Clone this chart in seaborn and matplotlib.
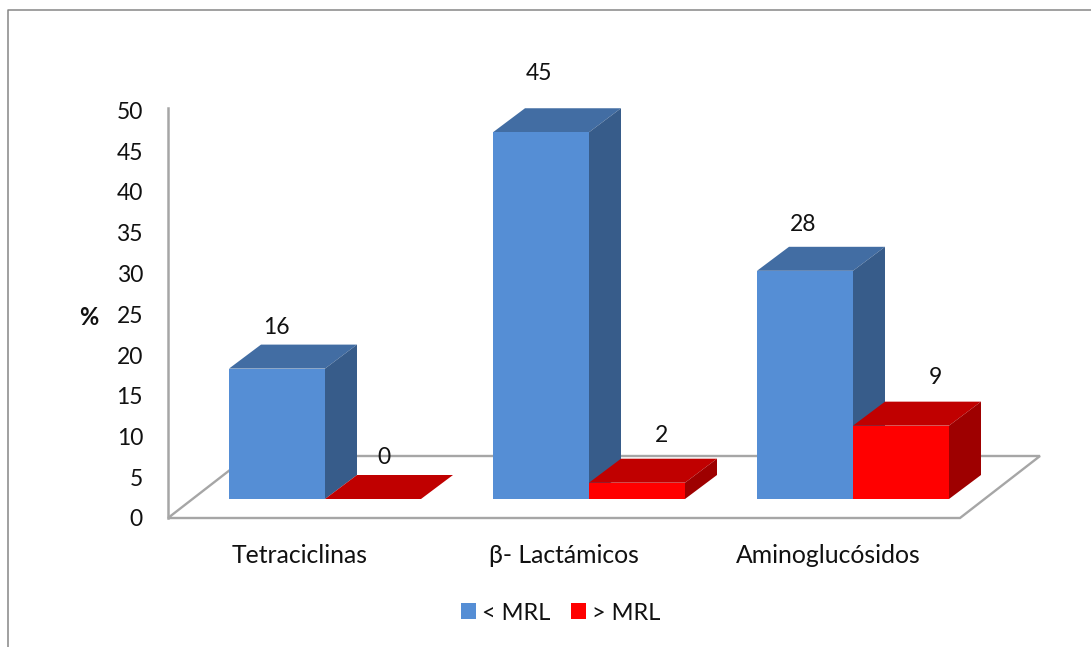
import matplotlib
matplotlib.use("Agg")
import matplotlib.pyplot as plt
from matplotlib.lines import Line2D
from matplotlib.patches import Polygon
import pandas as pd
import seaborn as sns

# Values
categories = ["Tetraciclinas", "β- Lactámicos", "Aminoglucósidos"]
below_mrl = [16, 45, 28]
above_mrl = [0, 2, 9]
series_names = ["< MRL", "> MRL"]
y_ticks = [0, 5, 10, 15, 20, 25, 30, 35, 40, 45, 50]

# Label nudges in pixels, one per bar, from each bar's top centre
below_nudges = [(-1, 41), (-2, 59), (-2, 46)]
above_nudges = [(11, 41), (25, 47), (34, 48)]

FRONT = {"< MRL": "#558ED5", "> MRL": "#FF0000"}
TOP = {"< MRL": "#426DA3", "> MRL": "#C00000"}
SIDE = {"< MRL": "#375C8A", "> MRL": "#9E0000"}
GRID_GREY = "#A6A6A6"
FRAME_GREY = "#868686"

W, H = 1091, 647
UNIT_PX = 8.15      # pixels per percentage point
CAT_PX = 264        # pixels per category
BAR_DEPTH = (32 / CAT_PX, 24 / UNIT_PX)
FLOOR_DEPTH = (80 / CAT_PX, 62 / UNIT_PX)

sns.set_theme(style="white")
plt.rcParams["font.family"] = ["Lato", "DejaVu Sans"]
plt.rcParams["text.color"] = "#111111"

fig = plt.figure(figsize=(W / 100, H / 100), dpi=100, facecolor="white")


def axes_from_pixels(left, right, bottom, top, **kw):
    return fig.add_axes([left / W, 1 - bottom / H, (right - left) / W, (bottom - top) / H], **kw)


# Value axis and floor of the 3D box
box = axes_from_pixels(168, 960, 518, 518 - 50 * UNIT_PX)
box.set_xlim(-0.5, 2.5)
box.set_ylim(0, 50)
box.set_yticks(y_ticks)
box.set_xticks(range(len(categories)), categories)
box.tick_params(axis="y", length=0, labelsize=16.5, pad=18, labelcolor="#111111")
box.tick_params(axis="x", length=0, labelsize=17.8, pad=19, labelcolor="#111111")
for name in ["top", "right", "bottom"]:
    box.spines[name].set_visible(False)
box.spines["left"].set_color(GRID_GREY)
box.spines["left"].set_linewidth(1.8)
box.spines["left"].set_bounds(0, 50.3)
box.add_patch(Polygon(
    [(-0.5, 0), (2.5, 0), (2.5 + FLOOR_DEPTH[0], FLOOR_DEPTH[1]), (-0.5 + FLOOR_DEPTH[0], FLOOR_DEPTH[1])],
    closed=True, facecolor="white", edgecolor=GRID_GREY, linewidth=1.7, clip_on=False,
))
box.text(-0.5 - 79 / CAT_PX, 24.6, "%", fontsize=17, fontweight="bold", ha="center", va="center")

# Bars stand a little in front of the value axis origin
df = pd.DataFrame({
    "categoria": categories * 2,
    "serie": [series_names[0]] * 3 + [series_names[1]] * 3,
    "valor": below_mrl + above_mrl,
})
bars = axes_from_pixels(193, 985, 499, 499 - 50 * UNIT_PX)
bars.patch.set_visible(False)
sns.barplot(data=df, x="categoria", y="valor", hue="serie", order=categories,
            hue_order=series_names, palette=FRONT, saturation=1, width=192 / CAT_PX,
            gap=0, errorbar=None, linewidth=0, ax=bars)
bars.set_xlim(-0.5, 2.5)
bars.set_ylim(0, 50)
handles, labels = bars.get_legend_handles_labels()
bars.legend_.remove()
bars.axis("off")

# Extrude each front face into top and side faces
dx, dy = BAR_DEPTH
for order, (container, name, nudges) in enumerate(
        zip(bars.containers, series_names, [below_nudges, above_nudges])):
    for rect, nudge in zip(container, nudges):
        x0, w, h = rect.get_x(), rect.get_width(), rect.get_height()
        x1 = x0 + w
        bars.add_patch(Polygon([(x0, h), (x1, h), (x1 + dx, h + dy), (x0 + dx, h + dy)],
                               closed=True, facecolor=TOP[name], edgecolor="none",
                               zorder=0.6 + order / 10, clip_on=False))
        bars.add_patch(Polygon([(x1, 0), (x1 + dx, dy), (x1 + dx, h + dy), (x1, h)],
                               closed=True, facecolor=SIDE[name], edgecolor="none",
                               zorder=0.6 + order / 10, clip_on=False))
        bars.annotate(f"{h:.0f}", xy=(x0 + w / 2, h), xytext=nudge, textcoords="offset pixels",
                      ha="center", va="center", fontsize=16.5, annotation_clip=False, zorder=5)

# Legend
fig.legend(handles, labels, loc="center", bbox_to_anchor=(560.5 / W, 1 - 613 / H), ncol=2,
           frameon=False, fontsize=17, handlelength=0.65, handleheight=0.65,
           handletextpad=0.25, columnspacing=0.85, borderpad=0)

# Frame of the chart area, open on the right and at the bottom
fig.add_artist(Line2D([8 / W, 8 / W, 1], [0, 1 - 10 / H, 1 - 10 / H], color=FRAME_GREY, linewidth=1.1))

fig.savefig("out.png", dpi=100)
